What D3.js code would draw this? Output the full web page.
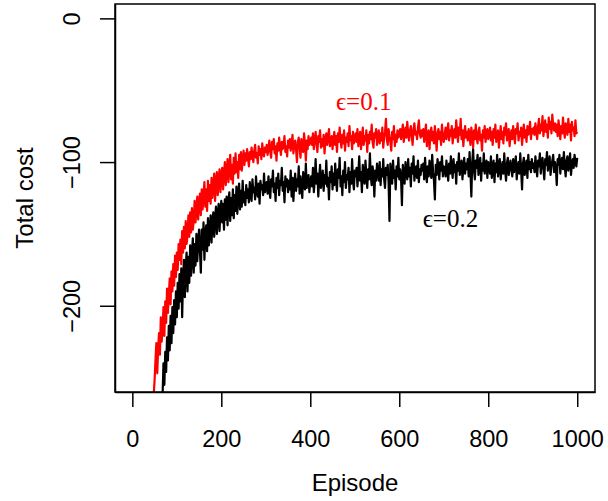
<!DOCTYPE html>
<html>
<head>
<meta charset="utf-8">
<script src="https://cdn.jsdelivr.net/npm/d3@7"></script>
<style>
  body { margin: 0; background: #fff; }
  svg { display: block; }
</style>
</head>
<body>
<svg id="chart" width="608" height="501"></svg>
<script>
// total cost per episode, sampled every 2nd episode (2, 4, ..., 1000)
let costEps01 = [
  -420,-405,-398,-390,-376,-371,-362,-350,-346,-338,-329,-322,-318,-309,-301,-297,-290,-284,-279,-275,-270,-268,-266,-262,-252,
  -238,-226,-247,-230,-219,-234,-208,-225,-216,-201,-221,-197,-212,-188,-205,-192,-181,-199,-176,-190,-171,-186,-165,-180,-163,
  -175,-157,-168,-154,-171,-148,-163,-145,-160,-141,-157,-151,-137,-152,-135,-149,-132,-147,-141,-127,-142,-133,-124,-140,-128,
  -122,-137,-119,-133,-124,-114,-131,-119,-134,-113,-127,-116,-129,-111,-125,-117,-108,-127,-114,-107,-123,-112,-105,-121,-110,
  -104,-119,-108,-100,-116,-106,-98,-114,-104,-95,-112,-102,-115,-97,-108,-94,-107,-100,-111,-95,-105,-93,-106,-99,-92,
  -102,-94,-99,-91,-97,-103,-93,-98,-90,-96,-100,-92,-88,-97,-94,-101,-89,-95,-91,-98,-87,-94,-96,-90,-93,
  -88,-95,-90,-85,-93,-97,-86,-91,-84,-94,-89,-99,-87,-92,-83,-90,-95,-86,-91,-88,-82,-93,-89,-96,-85,
  -90,-84,-92,-87,-81,-94,-88,-85,-91,-100,-86,-83,-90,-97,-84,-89,-93,-80,-87,-99,-85,-91,-82,-88,-86,
  -83,-88,-80,-91,-85,-79,-87,-93,-82,-86,-78,-90,-84,-89,-81,-94,-85,-80,-88,-83,-77,-89,-86,-82,-91,
  -84,-79,-88,-82,-93,-80,-86,-76,-85,-90,-81,-87,-78,-92,-83,-86,-80,-89,-75,-85,-82,-91,-79,-87,-84,
  -80,-86,-77,-89,-83,-79,-91,-84,-76,-88,-82,-85,-78,-93,-81,-87,-79,-84,-74,-86,-90,-80,-83,-77,-88,
  -82,-78,-87,-80,-85,-76,-90,-83,-79,-70,-84,-88,-77,-82,-86,-92,-79,-84,-75,-89,-81,-86,-78,-83,-80,
  -77,-84,-79,-74,-86,-81,-76,-83,-72,-80,-85,-78,-75,-82,-88,-77,-73,-81,-79,-84,-76,-71,-80,-83,-78,
  -82,-77,-86,-80,-74,-89,-83,-78,-91,-81,-76,-85,-79,-87,-75,-83,-92,-80,-77,-84,-79,-88,-74,-82,-86,
  -81,-76,-84,-79,-73,-85,-78,-82,-75,-87,-80,-77,-83,-71,-79,-86,-76,-81,-70,-84,-78,-89,-80,-75,-83,
  -79,-85,-77,-82,-88,-76,-81,-90,-78,-84,-74,-83,-87,-79,-76,-85,-81,-92,-78,-83,-75,-86,-80,-77,-84,
  -81,-76,-85,-79,-88,-77,-83,-74,-86,-80,-78,-90,-82,-75,-84,-79,-87,-76,-81,-73,-85,-80,-77,-89,-82,
  -78,-84,-75,-81,-87,-77,-80,-73,-85,-79,-82,-76,-88,-80,-74,-83,-78,-86,-75,-81,-79,-72,-84,-77,-80,
  -76,-81,-73,-79,-84,-75,-70,-80,-74,-78,-68,-82,-76,-71,-79,-74,-83,-69,-77,-72,-80,-67,-75,-78,-73,
  -79,-74,-82,-71,-77,-84,-75,-80,-69,-78,-83,-73,-76,-81,-70,-79,-74,-85,-72,-78,-76,-82,-71,-80,-79
];

let costEps02 = [
  -460,-450,-441,-436,-425,-418,-410,-404,-396,-390,-381,-377,-369,-362,-358,-350,-344,-339,-333,-326,-322,-316,-311,-305,-300,
  -296,-290,-284,-281,-276,-272,-268,-265,-262,-240,-255,-232,-246,-222,-238,-214,-231,-207,-226,-201,-219,-196,-213,-190,-208,
  -184,-202,-178,-197,-174,-208,-181,-168,-194,-172,-163,-190,-166,-184,-158,-179,-163,-153,-177,-157,-172,-150,-169,-156,-147,
  -162,-177,-147,-161,-142,-168,-150,-144,-162,-139,-158,-147,-137,-156,-142,-135,-152,-140,-131,-150,-137,-129,-148,-134,-127,
  -142,-129,-147,-126,-140,-124,-144,-128,-121,-141,-125,-137,-119,-139,-123,-134,-117,-136,-122,-115,-133,-120,-131,-113,-128,
  -121,-130,-116,-125,-119,-128,-114,-123,-127,-112,-121,-118,-126,-110,-120,-124,-115,-129,-113,-119,-116,-123,-108,-121,-117,
  -114,-122,-110,-119,-125,-112,-117,-106,-121,-115,-127,-111,-118,-108,-123,-113,-116,-104,-120,-114,-128,-110,-117,-112,-121,
  -113,-119,-106,-124,-111,-127,-115,-108,-120,-112,-117,-103,-122,-110,-116,-125,-107,-114,-119,-101,-118,-112,-109,-121,-113,
  -110,-117,-104,-121,-112,-98,-115,-108,-124,-111,-102,-118,-113,-106,-120,-109,-115,-99,-117,-111,-126,-107,-114,-103,-119,
  -108,-116,-101,-113,-120,-105,-111,-97,-117,-110,-123,-106,-114,-100,-118,-109,-112,-104,-121,-107,-115,-98,-113,-119,-106,
  -110,-104,-117,-108,-96,-113,-107,-121,-102,-111,-115,-99,-109,-118,-105,-112,-94,-110,-116,-103,-108,-124,-106,-113,-101,
  -107,-113,-100,-116,-105,-110,-98,-112,-118,-104,-109,-102,-114,-141,-101,-108,-115,-99,-111,-106,-119,-103,-110,-97,-112,
  -105,-111,-130,-102,-109,-115,-100,-107,-112,-98,-110,-104,-117,-101,-108,-96,-113,-106,-103,-111,-99,-114,-105,-109,-102,
  -106,-101,-112,-97,-108,-114,-103,-110,-99,-105,-111,-95,-107,-113,-126,-102,-109,-98,-104,-112,-100,-106,-96,-110,-103,
  -104,-110,-99,-106,-113,-101,-108,-96,-105,-111,-98,-107,-102,-115,-100,-106,-94,-109,-103,-99,-112,-104,-97,-108,-101,
  -105,-98,-110,-93,-107,-124,-100,-91,-106,-112,-99,-104,-95,-109,-102,-97,-113,-101,-106,-94,-108,-103,-99,-111,-100,
  -102,-108,-96,-111,-104,-99,-114,-101,-107,-95,-110,-103,-98,-112,-105,-100,-108,-94,-106,-113,-101,-97,-109,-104,-99,
  -105,-110,-98,-107,-102,-96,-112,-104,-100,-108,-94,-106,-119,-101,-97,-109,-103,-99,-111,-95,-105,-100,-107,-98,-104,
  -101,-107,-96,-104,-110,-99,-103,-94,-108,-100,-97,-105,-112,-98,-102,-93,-106,-101,-96,-109,-103,-99,-95,-107,-100,
  -104,-116,-98,-102,-95,-108,-100,-97,-105,-93,-103,-110,-99,-96,-106,-101,-94,-109,-102,-98,-104,-95,-100,-103,-97
];

let episodeStep = 2;
let xTicks = [0, 200, 400, 600, 800, 1000];
let yTicks = [0, -100, -200];
let seriesLabels = ["\u03f5=0.1", "\u03f5=0.2"];

let svg = d3.select('#chart');

let box = {left: 115, right: 595, top: 4, bottom: 392};

// R-style 4% padding around xlim c(1,1000), ylim c(-250,0)
let xScale = d3.scaleLinear().domain([1 - 39.96, 1000 + 39.96]).range([box.left, box.right]);
let yScale = d3.scaleLinear().domain([-260, 10]).range([box.bottom, box.top]);

svg.append("clipPath").attr("id", "clip")
    .append("rect")
    .attr("x", box.left).attr("y", box.top)
    .attr("width", box.right - box.left).attr("height", box.bottom - box.top);

let line = d3.line()
    .x((d, i) => xScale((i + 1) * episodeStep))
    .y(d => yScale(d));

let plot = svg.append("g").attr("clip-path", "url(#clip)");

plot.append("path")
    .datum(costEps02)
    .attr("d", line)
    .attr("fill", "none")
    .attr("stroke", "black")
    .attr("stroke-width", 2.2)
    .attr("stroke-linejoin", "round");

plot.append("path")
    .datum(costEps01)
    .attr("d", line)
    .attr("fill", "none")
    .attr("stroke", "red")
    .attr("stroke-width", 2.2)
    .attr("stroke-linejoin", "round");

// box
svg.append("rect")
    .attr("x", box.left).attr("y", box.top)
    .attr("width", box.right - box.left).attr("height", box.bottom - box.top)
    .attr("fill", "none").attr("stroke", "black").attr("stroke-width", 1.5);

let font = "'Liberation Sans', Arial, sans-serif";

// x axis
let xAxis = d3.axisBottom(xScale).tickValues(xTicks).tickSize(15).tickSizeOuter(0)
    .tickFormat(d3.format("d"));
let gx = svg.append("g")
    .attr("transform", "translate(0," + box.bottom + ")")
    .call(xAxis);
gx.select(".domain").attr("stroke-width", 1.5);
gx.selectAll(".tick line").attr("stroke-width", 1.5);
gx.selectAll(".tick text")
    .attr("font-family", font).attr("font-size", 23.5).attr("fill", "black")
    .attr("dy", null).attr("y", 55);

// y axis with rotated labels
let yAxis = d3.axisLeft(yScale).tickValues(yTicks).tickSize(15).tickSizeOuter(0)
    .tickFormat(d => d3.format("d")(d).replace("-", "\u2212"));
let gy = svg.append("g")
    .attr("transform", "translate(" + box.left + ",0)")
    .call(yAxis);
gy.select(".domain").attr("stroke-width", 1.5);
gy.selectAll(".tick line").attr("stroke-width", 1.5);
gy.selectAll(".tick text")
    .attr("font-family", font).attr("font-size", 23.5).attr("fill", "black")
    .attr("x", null).attr("dy", null)
    .attr("text-anchor", "middle")
    .attr("transform", "translate(-35,0) rotate(-90)");

// axis titles
svg.append("text")
    .attr("x", 355).attr("y", 491)
    .attr("text-anchor", "middle")
    .attr("font-family", font).attr("font-size", 24)
    .text("Episode");

svg.append("text")
    .attr("transform", "translate(33," + ((box.top + box.bottom) / 2) + ") rotate(-90)")
    .attr("text-anchor", "middle")
    .attr("font-family", font).attr("font-size", 24)
    .text("Total cost");

// series labels
let serif = "'Liberation Serif', 'DejaVu Serif', serif";
svg.append("text")
    .attr("x", xScale(520)).attr("y", 110)
    .attr("text-anchor", "middle")
    .attr("font-family", serif).attr("font-size", 25).attr("fill", "red")
    .text(seriesLabels[0]);

svg.append("text")
    .attr("x", xScale(715)).attr("y", 227)
    .attr("text-anchor", "middle")
    .attr("font-family", serif).attr("font-size", 25).attr("fill", "black")
    .text(seriesLabels[1]);
</script>
</body>
</html>
